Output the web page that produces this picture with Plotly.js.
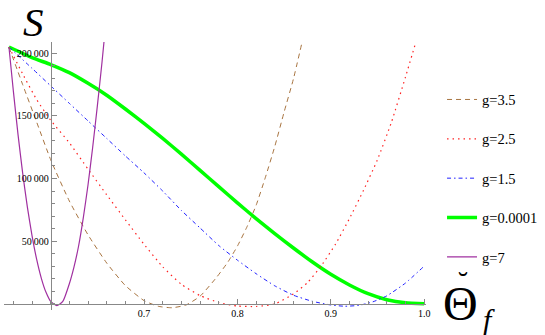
<!DOCTYPE html>
<html>
<head>
<meta charset="utf-8">
<script src="https://cdn.plot.ly/plotly-3.0.1.min.js"></script>
<style>
  html, body { margin: 0; padding: 0; background: #fff; }
  #chart { width: 545px; height: 335px; }
</style>
</head>
<body>
<div id="chart"></div>
<script>
// values: theta_f on x, S on y
const gLabels = ['g=3.5', 'g=2.5', 'g=1.5', 'g=0.0001', 'g=7'];

const xG35 = [0.5553, 0.57, 0.585, 0.60, 0.62, 0.64, 0.66, 0.68, 0.70, 0.715, 0.73, 0.745, 0.76, 0.7776, 0.79, 0.80, 0.81, 0.82, 0.83, 0.84, 0.85, 0.86, 0.8693];
const yG35 = [205000, 175000, 145000, 115000, 82000, 55000, 32500, 14500, 2500, -2000, -3200, -1000, 6000, 21000, 33500, 46000, 61000, 78500, 101000, 125500, 153000, 179500, 209000];

const xG25 = [0.5553, 0.57, 0.585, 0.60, 0.62, 0.64, 0.66, 0.68, 0.70, 0.72, 0.74, 0.76, 0.78, 0.80, 0.82, 0.84, 0.86, 0.875, 0.89, 0.905, 0.92, 0.935, 0.95, 0.965, 0.98, 0.9912];
const yG25 = [205000, 183500, 163000, 146500, 128500, 107500, 87000, 67000, 47500, 29500, 15500, 6500, 1000, -1800, -2200, -200, 7800, 16800, 30500, 47500, 68000, 90500, 115000, 145000, 181000, 209000];

const xG15 = [0.5553, 0.58, 0.60, 0.62, 0.64, 0.66, 0.68, 0.70, 0.72, 0.74, 0.76, 0.78, 0.80, 0.82, 0.84, 0.86, 0.88, 0.90, 0.915, 0.93, 0.945, 0.96, 0.98, 1.0];
const yG15 = [205000, 188000, 174000, 160000, 146000, 132000, 118000, 104500, 90000, 74500, 60500, 46500, 34800, 24000, 14300, 6800, 2000, -1000, -2000, -1300, 1500, 6300, 16500, 30000];

const xG0 = [0.5553, 0.58, 0.60, 0.62, 0.64, 0.66, 0.68, 0.70, 0.72, 0.74, 0.76, 0.78, 0.80, 0.82, 0.84, 0.86, 0.88, 0.90, 0.92, 0.94, 0.96, 0.98, 1.0];
const yG0 = [205000, 196500, 191000, 184500, 176000, 166500, 155500, 144000, 132000, 119500, 106500, 93500, 80500, 68000, 56000, 44500, 33500, 23500, 15000, 8000, 3200, 700, 0];

const xG7 = [0.5553, 0.56, 0.565, 0.57, 0.575, 0.58, 0.585, 0.59, 0.595, 0.60, 0.6066, 0.613, 0.62, 0.625, 0.63, 0.635, 0.64, 0.645, 0.65, 0.655, 0.6585];
const yG7 = [205000, 170000, 135200, 104300, 77400, 54400, 35400, 20300, 9100, 1900, -1500, 1900, 16000, 29500, 46500, 69000, 95000, 125000, 158000, 193000, 220000];

const yTickVals = [50000, 100000, 150000, 200000];
const yTickText = ['50\u2009000', '100\u2009000', '150\u2009000', '200\u2009000'];
const xTickVals = [0.7, 0.8, 0.9, 1.0];
const xTickText = ['0.7', '0.8', '0.9', '1.0'];

const serif = 'Liberation Serif, Times New Roman, serif';
const xRange = [0.55, 1.002];
const yRange = [-5000, 209000];

function trace(x, y, name, color, width, dash, rank) {
  return {
    x: x, y: y, name: name, type: 'scatter', mode: 'lines',
    line: {color: color, width: width, dash: dash, shape: 'spline', smoothing: 0.5},
    legendgroup: name, legendrank: rank, hoverinfo: 'skip'
  };
}

const data = [
  trace(xG0, yG0, gLabels[3], '#00ff00', 3.5, 'solid', 4),
  trace(xG15, yG15, gLabels[2], '#2020ff', 1, '4px,3px,1.5px,3px', 3),
  trace(xG25, yG25, gLabels[1], '#ff2020', 1.2, '1.5px,4px', 2),
  trace(xG35, yG35, gLabels[0], '#a87440', 1, '5px,4px', 1),
  trace(xG7, yG7, gLabels[4], '#a030a0', 1.2, 'solid', 5)
];

const layout = {
  width: 545, height: 335,
  margin: {l: 4, r: 119, t: 42, b: 25, autoexpand: false},
  paper_bgcolor: '#fff', plot_bgcolor: '#fff',
  showlegend: true,
  legend: {
    x: 1.038, xanchor: 'left', y: 0.845, yanchor: 'top',
    font: {family: serif, size: 14.5, color: '#000'},
    traceorder: 'grouped', tracegroupgap: 17.5,
    itemwidth: 30, bgcolor: 'rgba(0,0,0,0)'
  },
  xaxis: {
    range: xRange, anchor: 'free',
    position: (0 - yRange[0]) / (yRange[1] - yRange[0]),
    showgrid: false, zeroline: false, showline: true,
    linecolor: '#888', linewidth: 1,
    tickmode: 'array', tickvals: xTickVals, ticktext: xTickText,
    ticks: 'inside', ticklen: 5, tickcolor: '#888',
    minor: {tickmode: 'linear', tick0: 0.56, dtick: 0.02, ticks: 'inside', ticklen: 3, tickcolor: '#888'},
    tickfont: {family: serif, size: 10, color: '#000'}
  },
  yaxis: {
    range: yRange, anchor: 'free',
    position: (0.6 - xRange[0]) / (xRange[1] - xRange[0]),
    showgrid: false, zeroline: false, showline: true,
    linecolor: '#888', linewidth: 1,
    tickmode: 'array', tickvals: yTickVals, ticktext: yTickText,
    ticks: 'inside', ticklen: 5, tickcolor: '#888',
    minor: {tickmode: 'linear', tick0: 0, dtick: 10000, ticks: 'inside', ticklen: 3, tickcolor: '#888'},
    tickfont: {family: serif, size: 10, color: '#000'}
  },
  annotations: [
    {text: 'S', xref: 'paper', yref: 'paper', x: 0.069, y: 1.076, xanchor: 'center', yanchor: 'middle',
     showarrow: false, font: {family: serif, size: 41, color: '#000', style: 'italic'}},
    {text: '\u0398', xref: 'paper', yref: 'paper', x: 1.081, y: 0.025, xanchor: 'center', yanchor: 'middle',
     showarrow: false, font: {family: serif, size: 48, color: '#000'}},
    {text: '\u02D8', xref: 'paper', yref: 'paper', x: 1.088, y: 0.108, xanchor: 'center', yanchor: 'middle',
     showarrow: false, font: {family: serif, size: 30, color: '#000'}},
    {text: 'f', xref: 'paper', yref: 'paper', x: 1.149, y: -0.034, xanchor: 'center', yanchor: 'middle',
     showarrow: false, font: {family: serif, size: 30, color: '#000', style: 'italic'}}
  ]
};

Plotly.newPlot('chart', data, layout, {staticPlot: true, displayModeBar: false});
</script>
</body>
</html>
